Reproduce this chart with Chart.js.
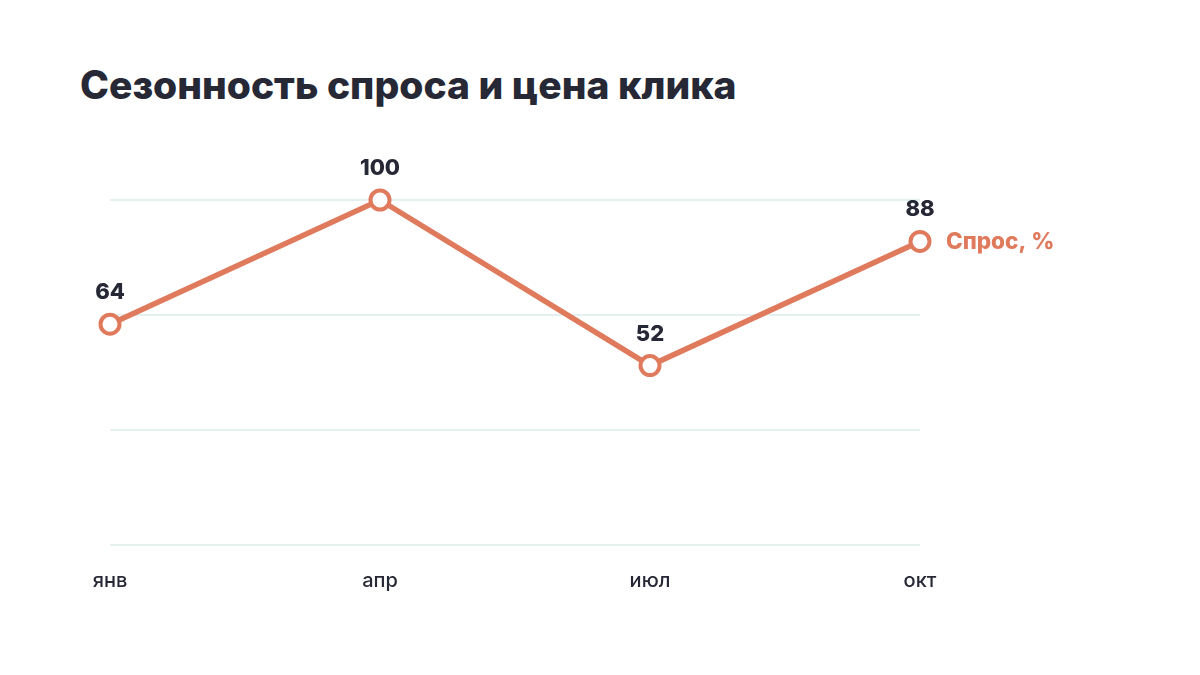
<!DOCTYPE html>
<html lang="ru">
<head>
<meta charset="utf-8">
<script src="https://cdn.jsdelivr.net/npm/chart.js@4.4.1/dist/chart.umd.min.js"></script>
<style>
    html, body { margin: 0; padding: 0; background: #ffffff; }
    #wrap { position: relative; width: 1200px; height: 675px; }
    #title {
        position: absolute; left: 80px; top: 61px; margin: 0;
        font-family: Inter, "Noto Sans", sans-serif; font-weight: 800; font-size: 39px;
        line-height: 47px; color: #262835;
    }
    canvas { position: absolute; left: 0; top: 0; }
</style>
</head>
<body>
<div id="wrap">
    <h1 id="title">Сезонность спроса и цена клика</h1>
    <canvas id="chart" width="1200" height="675"></canvas>
</div>
<script>
const months = ['янв', 'апр', 'июл', 'окт'];
const demand = [64, 100, 52, 88];
const seriesName = 'Спрос, %';
const gridTicks = [0, 100 / 3, 200 / 3, 100];

const lineColor = '#e07a5c';
const textColor = '#262835';

// подписи значений и название серии
const labelsPlugin = {
    id: 'pointLabels',
    afterDatasetsDraw(chart) {
        const ctx = chart.ctx;
        const meta = chart.getDatasetMeta(0);
        ctx.save();
        ctx.font = '800 22px Inter, "Noto Sans", sans-serif';
        ctx.fillStyle = textColor;
        ctx.textAlign = 'center';
        ctx.textBaseline = 'alphabetic';
        meta.data.forEach((pt, i) => {
            ctx.fillText(String(demand[i]), pt.x, pt.y - 25);
        });
        const last = meta.data[meta.data.length - 1];
        ctx.font = '800 22.5px Inter, "Noto Sans", sans-serif';
        ctx.fillStyle = lineColor;
        ctx.textAlign = 'left';
        ctx.textBaseline = 'middle';
        ctx.fillText(seriesName, last.x + 26, last.y + 1);
        ctx.restore();
    }
};

new Chart(document.getElementById('chart'), {
    type: 'line',
    data: {
        labels: months,
        datasets: [{
            label: seriesName,
            data: demand,
            borderColor: lineColor,
            borderWidth: 5.5,
            backgroundColor: '#ffffff',
            pointBackgroundColor: '#ffffff',
            pointBorderColor: lineColor,
            pointBorderWidth: 4,
            pointRadius: 9.5,
            tension: 0,
            clip: false,
        }]
    },
    options: {
        responsive: false,
        animation: false,
        layout: {
            padding: {left: 110, right: 280, top: 200, bottom: 58}
        },
        plugins: {
            legend: {display: false},
            tooltip: {enabled: false},
        },
        scales: {
            x: {
                offset: false,
                grid: {display: false, drawTicks: false},
                border: {display: false},
                ticks: {
                    color: textColor,
                    padding: 24,
                    font: {family: 'Inter, "Noto Sans", sans-serif', size: 20, weight: 500},
                }
            },
            y: {
                min: 0,
                max: 100,
                afterBuildTicks(scale) {
                    scale.ticks = gridTicks.map(v => ({value: v}));
                },
                grid: {color: '#e4f1ef', lineWidth: 2, drawTicks: false},
                border: {display: false},
                ticks: {display: false}
            }
        }
    },
    plugins: [labelsPlugin],
});
</script>
</body>
</html>
